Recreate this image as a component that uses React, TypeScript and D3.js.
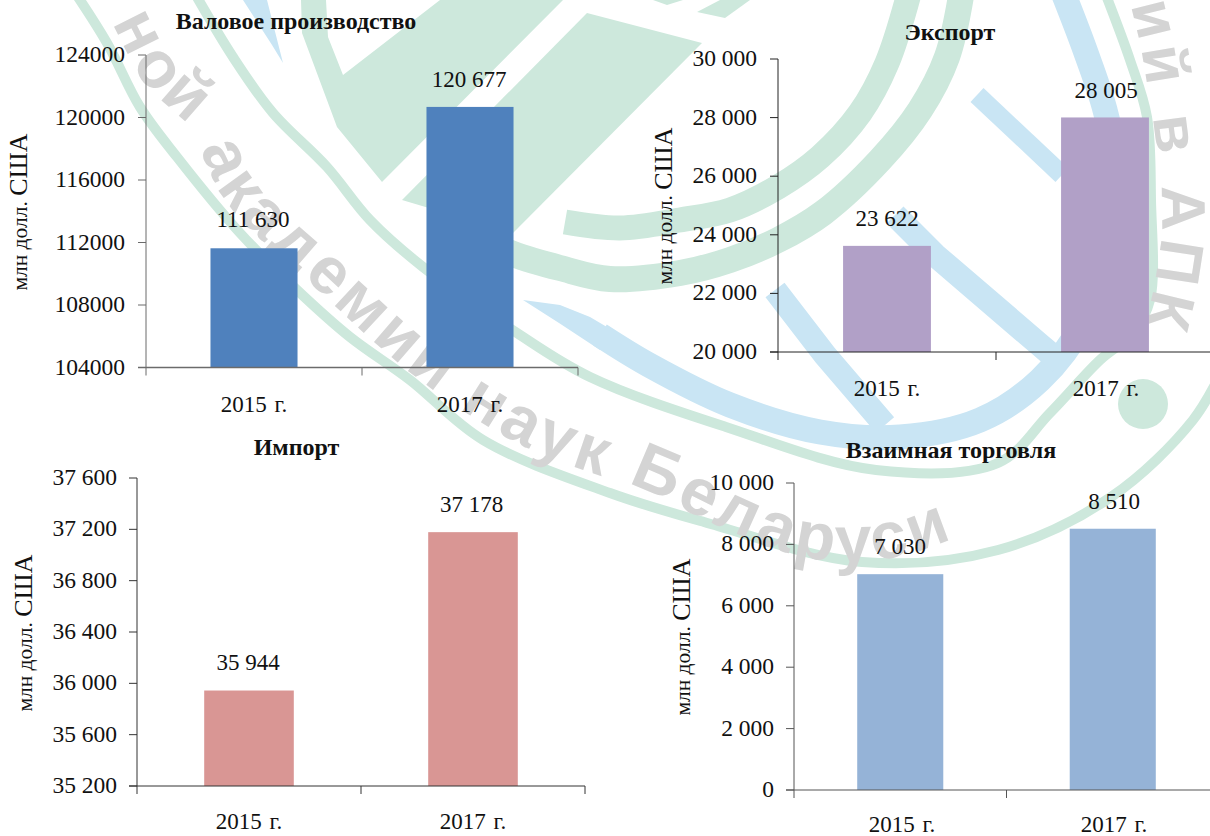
import React from "react";
import * as d3 from "d3";

// ---- data ----
const categories = ["2015 г.", "2017 г."];
const grossValues = [111630, 120677];
const exportValues = [23622, 28005];
const importValues = [35944, 37178];
const tradeValues = [7030, 8510];
const grossTicks = [104000, 108000, 112000, 116000, 120000, 124000];
const exportTicks = [20000, 22000, 24000, 26000, 28000, 30000];
const importTicks = [35200, 35600, 36000, 36400, 36800, 37200, 37600];
const tradeTicks = [0, 2000, 4000, 6000, 8000, 10000];
const titles = ["Валовое производство", "Экспорт", "Импорт", "Взаимная торговля"];
const unitSmall = "млн долл. ";
const unitBig = "США";

const grouped = d3.formatLocale({ thousands: " ", grouping: [3], decimal: ",", currency: ["", ""] }).format(",d");
const plain = d3.format("d");

const SERIF = "'Liberation Serif', serif";

type Panel = {
  title: string; values: number[]; ticks: number[]; color: string; axis: string; axisW: number;
  x0: number; x1: number; top: number; bottom: number; padding: number;
  tickFmt: (n: number) => string;
  titleX: number; titleY: number; tickEnd: number; unitX: number; unitY: number;
  catXs: number[]; catY: number; labelXs: number[]; labelYs: number[];
};

const panels: Panel[] = [
  { title: titles[0], values: grossValues, ticks: grossTicks, color: "#4f81bd", axis: "#6b6b6b", axisW: 1.5,
    x0: 146, x1: 578, top: 55, bottom: 367.5, padding: 0.597, tickFmt: plain,
    titleX: 296, titleY: 29, tickEnd: 125, unitX: 27, unitY: 212,
    catXs: [254, 470], catY: 412, labelXs: [253, 469], labelYs: [227, 87] },
  { title: titles[1], values: exportValues, ticks: exportTicks, color: "#b1a0c7", axis: "#222222", axisW: 1,
    x0: 778, x1: 1214, top: 59, bottom: 352, padding: 0.597, tickFmt: grouped,
    titleX: 950, titleY: 40, tickEnd: 757, unitX: 672, unitY: 206,
    catXs: [887, 1106], catY: 396, labelXs: [887, 1106], labelYs: [226, 98] },
  { title: titles[2], values: importValues, ticks: importTicks, color: "#d99694", axis: "#333333", axisW: 1,
    x0: 137, x1: 585, top: 478, bottom: 786, padding: 0.6, tickFmt: grouped,
    titleX: 296.5, titleY: 455, tickEnd: 117, unitX: 32, unitY: 633,
    catXs: [249, 473], catY: 829, labelXs: [248, 471.5], labelYs: [670, 512] },
  { title: titles[3], values: tradeValues, ticks: tradeTicks, color: "#95b3d7", axis: "#555555", axisW: 1,
    x0: 794, x1: 1219, top: 483, bottom: 790, padding: 0.595, tickFmt: grouped,
    titleX: 951, titleY: 458, tickEnd: 774, unitX: 690, unitY: 637,
    catXs: [902, 1114], catY: 832, labelXs: [900, 1114], labelYs: [554, 509] },
];

// ---- decorative watermark behind the charts ----
type Pt = [number, number];
const GREEN = "#cde8dc";
const BLUE = "#c9e5f4";
const GRAY = "#d4d4d4";
const smooth = d3.line<Pt>().curve(d3.curveCatmullRom);
const closed = d3.line<Pt>().curve(d3.curveLinearClosed);

const outerRing: Pt[] = [[70, -15], [107, 43], [140, 107], [177, 157], [240, 233], [297, 290], [350, 337], [410, 380], [483, 440], [610, 493], [704, 522], [862, 562], [998, 550], [1111, 497], [1193, 420], [1225, 365]];
const innerRing: Pt[] = [[190, -15], [233, 57], [273, 113], [327, 167], [370, 220], [423, 267], [517, 333], [590, 377], [726, 427], [876, 470], [998, 463], [1050, 413], [1100, 360], [1133, 333], [1150, 300], [1151, 200], [1147, 117], [1130, 60], [1104, -10]];
const greenArc1: Pt[] = [[565, 222], [620, 228], [680, 220], [730, 210], [778, 187], [820, 157], [860, 113], [887, 63], [910, -10]];
const greenArc2: Pt[] = [[500, 248], [513, 254], [560, 268], [610, 279], [680, 273], [730, 260], [778, 240], [823, 213], [880, 160], [920, 110], [947, 57], [962, -10]];
const blueArc: Pt[] = [[600, 335], [649, 365], [730, 405], [820, 432], [900, 437], [980, 420], [1040, 380], [1085, 320], [1110, 250], [1118, 180], [1105, 110], [1085, 50], [1062, -10]];
const greenPolys: Pt[][] = [
  [[301, 0], [326, 0], [328, 37], [343, 75], [440, 0], [563, 0], [382, 182], [337, 127], [302, 33]],
  [[587, 13], [702, 43], [513, 233], [402, 200]],
  [[697, 12], [720, 0], [750, 0], [725, 18]],
  [[653, 0], [683, 0], [667, 5]],
];
const bluePolys: Pt[][] = [
  [[243, 0], [267, 0], [283, 63], [272, 45]],
  [[523, 300], [560, 305], [590, 317], [612, 330], [600, 350], [559, 323]],
];
const blueLines: Pt[][] = [
  [[895, 215], [935, 255], [1040, 345], [1060, 362]],
  [[775, 290], [825, 355], [885, 425]],
  [[977, 95], [1062, 175]],
];
const textBelow: Pt[] = [[92, -12], [112, 23], [148, 88], [186, 124], [228, 204], [316, 288], [412, 374], [508, 438], [578, 468], [650, 492], [700, 517], [785, 552], [858, 562], [936, 545], [1010, 505]];
const textRight: Pt[] = [[1120, -30], [1137, 30], [1148, 90], [1157, 150], [1162, 220], [1155, 280], [1140, 340], [1120, 380]];

function Watermark() {
  return (
    <g filter="url(#soft)">
      {greenPolys.map((p, i) => <path key={i} d={closed(p) as string} fill={GREEN} />)}
      <path d={smooth(outerRing) as string} fill="none" stroke={GREEN} strokeWidth={10} />
      <path d={smooth(innerRing) as string} fill="none" stroke={GREEN} strokeWidth={10} />
      <path d={smooth(greenArc1) as string} fill="none" stroke={GREEN} strokeWidth={25} />
      <path d={smooth(greenArc2) as string} fill="none" stroke={GREEN} strokeWidth={26} />
      <path d={smooth(blueArc) as string} fill="none" stroke={BLUE} strokeWidth={25} />
      {bluePolys.map((p, i) => <path key={i} d={closed(p) as string} fill={BLUE} />)}
      {blueLines.map((p, i) => <path key={i} d={d3.line<Pt>()(p) as string} fill="none" stroke={BLUE} strokeWidth={i === 2 ? 19 : 24} />)}
      <ellipse cx={1143} cy={404} rx={25} ry={25} fill={GREEN} />
      <path id="wmBelow" d={smooth(textBelow) as string} fill="none" />
      <path id="wmRight" d={smooth(textRight) as string} fill="none" />
      <text fontFamily="'Liberation Sans', sans-serif" fontWeight="bold" fontSize={66} fill={GRAY} letterSpacing={4.2}>
        <textPath href="#wmBelow" startOffset={40}>ной академии наук Беларуси</textPath>
      </text>
      <text fontFamily="'Liberation Sans', sans-serif" fontWeight="bold" fontSize={62} fill={GRAY} letterSpacing={7}>
        <textPath href="#wmRight" startOffset={-8}>ний в АПК</textPath>
      </text>
    </g>
  );
}

function BarPanel({ p }: { p: Panel }) {
  const y = d3.scaleLinear().domain([p.ticks[0], p.ticks[p.ticks.length - 1]]).range([p.bottom, p.top]);
  const x = d3.scaleBand<string>().domain(categories).range([p.x0, p.x1])
    .paddingInner(p.padding).paddingOuter(p.padding / 2);
  const boundaries = d3.range(categories.length + 1).map((i) => p.x0 + i * x.step());
  return (
    <g fontFamily={SERIF} fill="#111">
      <text x={p.titleX} y={p.titleY} textAnchor="middle" fontWeight="bold" fontSize={24}>{p.title}</text>
      {categories.map((c, i) => (
        <rect key={c} x={x(c)} y={y(p.values[i])} width={x.bandwidth()} height={p.bottom - y(p.values[i])} fill={p.color} />
      ))}
      <line x1={p.x0} x2={p.x0} y1={p.top} y2={p.bottom + 8} stroke={p.axis} strokeWidth={1} />
      <line x1={p.x0 - 8} x2={p.x1} y1={p.bottom} y2={p.bottom} stroke={p.axis} strokeWidth={p.axisW} />
      {boundaries.slice(1).map((b) => (
        <line key={b} x1={b} x2={b} y1={p.bottom} y2={p.bottom + 8} stroke={p.axis} strokeWidth={1} />
      ))}
      {p.ticks.map((t) => (
        <g key={t}>
          <line x1={p.x0 - 8} x2={p.x0} y1={y(t)} y2={y(t)} stroke={p.axis} strokeWidth={1} />
          <text x={p.tickEnd} y={y(t) + 7} textAnchor="end" fontSize={23.5}>{p.tickFmt(t)}</text>
        </g>
      ))}
      {categories.map((c, i) => (
        <text key={c} x={p.catXs[i]} y={p.catY} textAnchor="middle" fontSize={23} wordSpacing={2}>{c}</text>
      ))}
      {p.values.map((v, i) => (
        <text key={i} x={p.labelXs[i]} y={p.labelYs[i]} textAnchor="middle" fontSize={23}>{grouped(v)}</text>
      ))}
      <text transform={`translate(${p.unitX},${p.unitY}) rotate(-90)`} textAnchor="middle" fontSize={21.5}>
        {unitSmall}<tspan fontSize={26}>{unitBig}</tspan>
      </text>
    </g>
  );
}

export default function App() {
  return (
    <svg width={1210} height={836} style={{ position: "absolute", left: 0, top: 0, background: "#fff" }}>
      <defs>
        <filter id="soft" x="-5%" y="-5%" width="110%" height="110%">
          <feGaussianBlur stdDeviation={0.6} />
        </filter>
      </defs>
      <Watermark />
      {panels.map((p) => <BarPanel key={p.title} p={p} />)}
    </svg>
  );
}
